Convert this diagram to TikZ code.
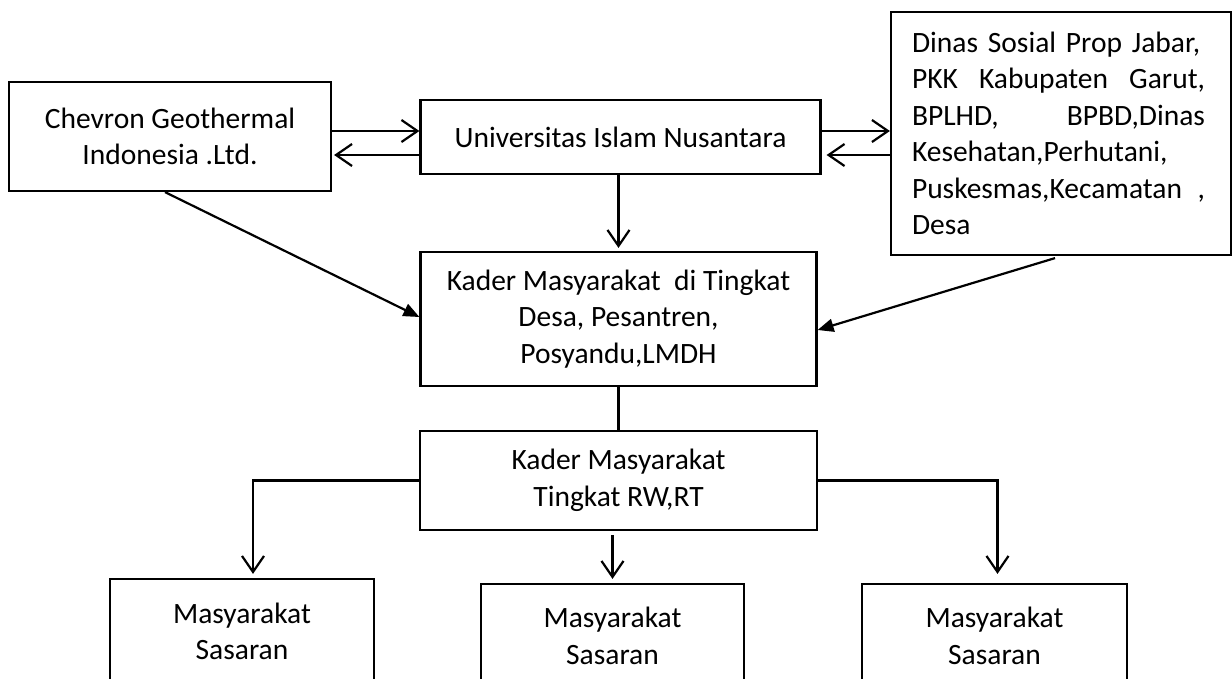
\documentclass[tikz,border=0pt]{standalone}
\usepackage{fontspec}
\setmainfont{Carlito}
\usetikzlibrary{arrows.meta}

\tikzset{
  box/.style={draw, line width=2.2pt, inner sep=0pt, align=center,
    font=\fontsize{29.5}{36.5}\selectfont},
  openarrow/.style={line width=2.2pt, -{Straight Barb[length=16pt,width=22pt]}},
  solidarrow/.style={line width=2.2pt, -{Triangle[length=16pt,width=13pt]}},
}

\begin{document}
\begin{tikzpicture}[x=1pt, y=-1pt]
	\clip (0,0) rectangle (1232,678);

	% top row
	\node[box, minimum width=322pt, minimum height=109pt] (chevron) at (170,136.5) {Chevron Geothermal\\Indonesia .Ltd.};
	\node[box, minimum width=400pt, minimum height=74pt] (univ) at (620.5,137) {Universitas Islam Nusantara};
	\node[box, minimum width=340pt, minimum height=243pt, text width=288pt, align=left] (dinas) at (1061,133.5)
		{\hspace*{-5pt}Dinas Sosial Prop Jabar,\\
		\hspace*{-5pt}PKK\hfill Kabupaten\hfill Garut,\\
		\hspace*{-5pt}BPLHD,\hfill BPBD,Dinas\\
		\hspace*{-5pt}Kesehatan,Perhutani,\\
		\hspace*{-5pt}Puskesmas,Kecamatan\hfill ,\\
		\hspace*{-5pt}Desa};

	% middle
	\node[box, minimum width=396pt, minimum height=134pt] (kader) at (618.5,319) {Kader Masyarakat \ di Tingkat\\Desa, Pesantren,\\Posyandu,LMDH};
	\node[box, minimum width=397pt, minimum height=99pt] (kaderrw) at (618.5,480.5) {Kader Masyarakat\\Tingkat RW,RT};

	% bottom row
	\node[box, minimum width=264pt, minimum height=105pt] (sasaranA) at (242,631.5) {Masyarakat\\Sasaran};
	\node[box, minimum width=263pt, minimum height=104pt] (sasaranB) at (612.5,636) {Masyarakat\\Sasaran};
	\node[box, minimum width=265pt, minimum height=104pt] (sasaranC) at (994.5,636) {Masyarakat\\Sasaran};

	\coordinate (upper) at (0,131);
	\coordinate (lower) at (0,155);

	\draw[openarrow] (chevron.east |- upper) -- (univ.west |- upper);
	\draw[openarrow] (univ.west |- lower) -- ([xshift=2pt]chevron.east |- lower);
	\draw[openarrow] (univ.east |- upper) -- (dinas.west |- upper);
	\draw[openarrow] (dinas.west |- lower) -- ([xshift=5pt]univ.east |- lower);
	\draw[openarrow, shorten >=3pt] ([xshift=-2pt]univ.south) -- ([xshift=-2pt]univ.south |- kader.north);

	\draw[solidarrow] ([xshift=-5pt]chevron.south) -- ([yshift=2pt]kader.west);
	\draw[solidarrow] ([xshift=-6pt,yshift=-2pt]dinas.south) -- ([yshift=-11pt]kader.east);

	\draw[line width=2.2pt] (kader.south) -- (kaderrw.north);
	\draw[openarrow, shorten >=4pt] (kaderrw.west) -| ([xshift=11pt]sasaranA.north);
	\draw[openarrow, shorten <=4pt, shorten >=4pt] (kaderrw.south -| sasaranB.north) -- (sasaranB.north);
	\draw[openarrow, shorten >=9pt] (kaderrw.east) -| ([xshift=3pt]sasaranC.north);
\end{tikzpicture}
\end{document}
